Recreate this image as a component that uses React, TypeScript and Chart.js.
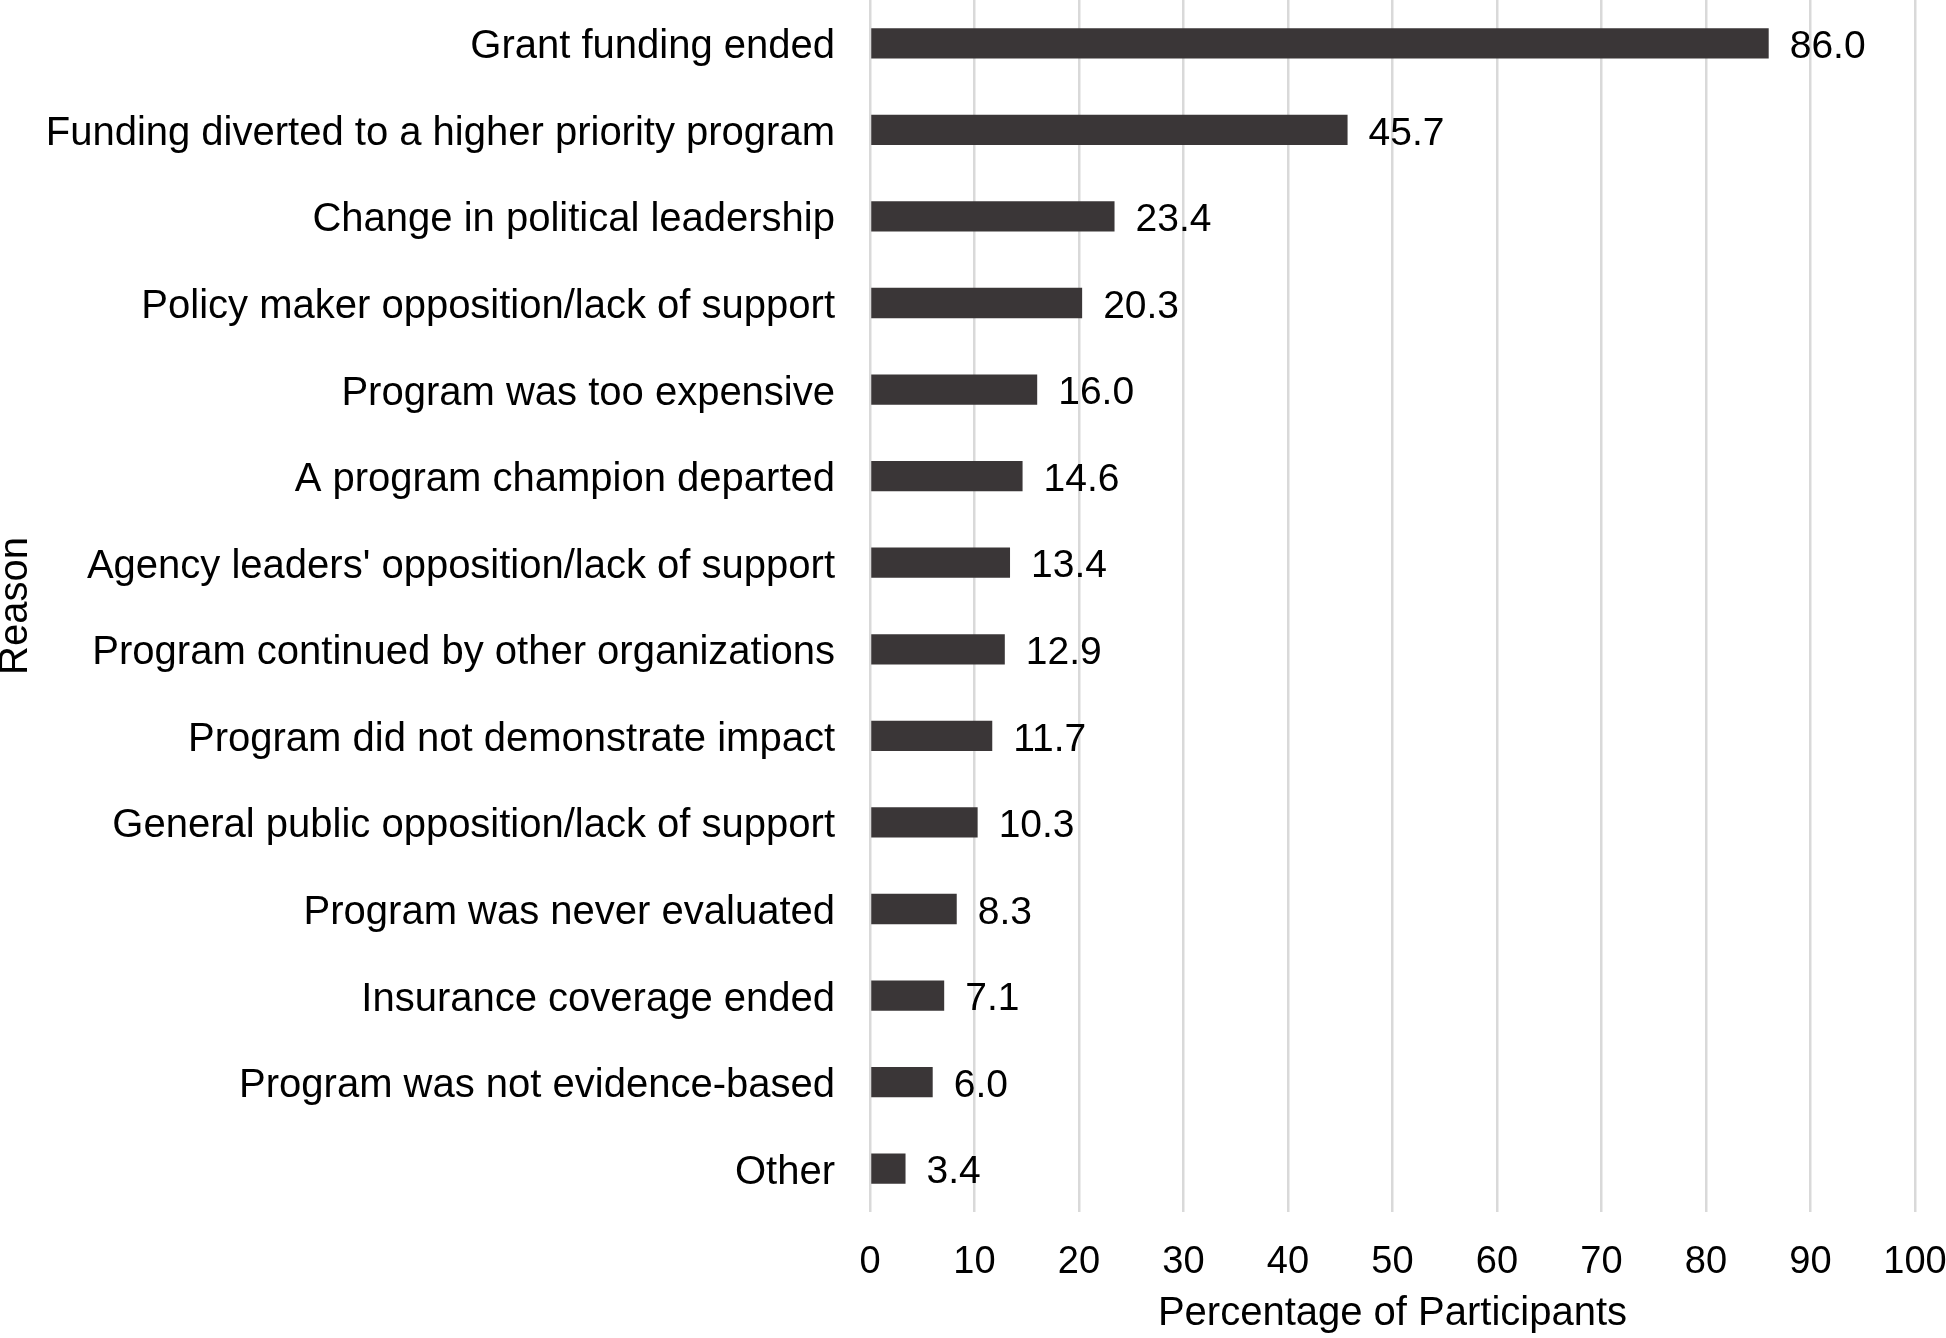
import React, { useEffect, useRef } from "react";
import { Chart, registerables } from "chart.js";

Chart.register(...registerables);

const categories = [
  "Grant funding ended",
  "Funding diverted to a higher priority program",
  "Change in political leadership",
  "Policy maker opposition/lack of support",
  "Program was too expensive",
  "A program champion departed",
  "Agency leaders' opposition/lack of support",
  "Program continued by other organizations",
  "Program did not demonstrate impact",
  "General public opposition/lack of support",
  "Program was never evaluated",
  "Insurance coverage ended",
  "Program was not evidence-based",
  "Other",
];

const values = [86.0, 45.7, 23.4, 20.3, 16.0, 14.6, 13.4, 12.9, 11.7, 10.3, 8.3, 7.1, 6.0, 3.4];

const xTitle = "Percentage of Participants";
const yTitle = "Reason";

const FONT = "'Liberation Sans', Arial, sans-serif";

const valueLabels = {
  id: "valueLabels",
  afterDatasetsDraw(chart: any) {
    const ctx = chart.ctx;
    const meta = chart.getDatasetMeta(0);
    ctx.save();
    ctx.font = `39px ${FONT}`;
    ctx.fillStyle = "#000000";
    ctx.textAlign = "left";
    ctx.textBaseline = "middle";
    meta.data.forEach((bar: any, i: number) => {
      ctx.fillText(values[i].toFixed(1), bar.x + 21, bar.y + 4);
    });
    ctx.restore();
  },
};

export default function App() {
  const ref = useRef<HTMLCanvasElement | null>(null);

  useEffect(() => {
    if (!ref.current) return;
    const chart = new Chart(ref.current, {
      type: "bar",
      data: {
        labels: categories,
        datasets: [
          {
            data: values,
            backgroundColor: "#3a3637",
            borderWidth: 0,
            barPercentage: 0.35,
            categoryPercentage: 1,
          },
        ],
      },
      options: {
        indexAxis: "y",
        responsive: false,
        animation: false,
        devicePixelRatio: 1,
        layout: { padding: { top: 0, right: 31, bottom: 0, left: 0 } },
        plugins: {
          legend: { display: false },
          tooltip: { enabled: false },
        },
        scales: {
          x: {
            min: 0,
            max: 100,
            ticks: {
              stepSize: 10,
              color: "#000000",
              padding: 28,
              maxRotation: 0,
              font: { family: FONT, size: 38 },
            },
            grid: { color: "#d9d9d9", lineWidth: 2.5, drawTicks: false },
            border: { display: false },
            title: {
              display: true,
              text: xTitle,
              color: "#000000",
              padding: { top: 0, bottom: 0 },
              font: { family: FONT, size: 40 },
            },
            afterFit(scale: any) {
              scale.height = 126;
              scale.paddingLeft = 0;
              scale.paddingRight = 0;
              scale.paddingTop = 0;
              scale.paddingBottom = 0;
            },
          },
          y: {
            ticks: {
              color: "#000000",
              padding: 35,
              labelOffset: 4,
              autoSkip: false,
              font: { family: FONT, size: 40 },
            },
            grid: { display: false, drawTicks: false },
            border: { display: false },
            title: {
              display: true,
              text: yTitle,
              color: "#000000",
              padding: { top: 0, bottom: 0 },
              font: { family: FONT, size: 40, lineHeight: 0.8 },
            },
            afterFit(scale: any) {
              scale.width = 870;
              scale.paddingLeft = 0;
              scale.paddingRight = 0;
              scale.paddingTop = 0;
              scale.paddingBottom = 0;
            },
          },
        },
      },
      plugins: [valueLabels],
    });
    return () => chart.destroy();
  }, []);

  return (
    <div style={{ position: "absolute", left: 0, top: 0, width: 1946, height: 1338, background: "#ffffff" }}>
      <canvas ref={ref} width={1946} height={1338} />
    </div>
  );
}
